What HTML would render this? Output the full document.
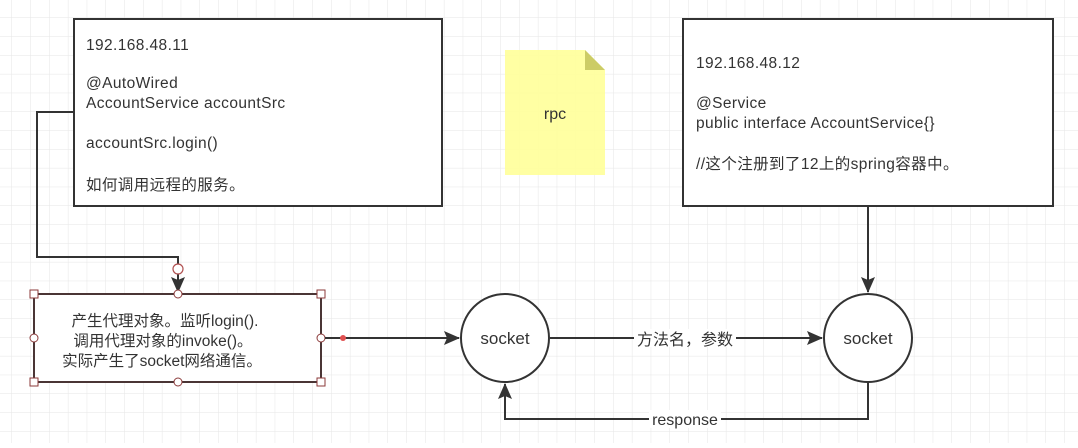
<!DOCTYPE html>
<html><head><meta charset="utf-8"><style>
html,body{margin:0;padding:0;background:#fff;}
svg text{font-family:"Liberation Sans","Noto Sans CJK SC",sans-serif;fill:#333;}
</style></head><body>
<svg width="1078" height="443" viewBox="0 0 1078 443" xmlns="http://www.w3.org/2000/svg">
<defs>
<pattern id="g" x="11.5" y="17.5" width="18.8" height="18.8" patternUnits="userSpaceOnUse">
<path d="M0 0H18.8M0 0V18.8" stroke="#e6e6e6" stroke-width="1" fill="none"/>
</pattern>
<marker id="b" markerWidth="16" markerHeight="14" refX="15" refY="7" orient="auto" markerUnits="userSpaceOnUse">
<path d="M0 0L16 7L0 14L3 7Z" fill="#333"/>
</marker>
</defs>
<rect width="1078" height="443" fill="url(#g)"/>

<!-- box1 -->
<rect x="74" y="19" width="368" height="187" fill="#fff" stroke="#333" stroke-width="2"/>
<g font-size="15.5" letter-spacing="0.4">
<text x="86" y="50">192.168.48.11</text>
<text x="86" y="88">@AutoWired</text>
<text x="86" y="108">AccountService accountSrc</text>
<text x="86" y="148">accountSrc.login()</text>
<text x="86" y="190">如何调用远程的服务。</text>
</g>

<!-- note -->
<path d="M505 50H585L605 70V175H505Z" fill="#ffff99" opacity="0.9"/>
<path d="M585 50L605 70H585Z" fill="#cccc66"/>
<text x="555" y="119" font-size="16" text-anchor="middle">rpc</text>

<!-- box2 -->
<rect x="683" y="19" width="370" height="187" fill="#fff" stroke="#333" stroke-width="2"/>
<g font-size="15.5" letter-spacing="0.4">
<text x="696" y="68">192.168.48.12</text>
<text x="696" y="108">@Service</text>
<text x="696" y="128">public interface AccountService{}</text>
<text x="696" y="169">//这个注册到了12上的spring容器中。</text>
</g>

<!-- connector left -->
<path d="M74 112H37V257H178V292" fill="none" stroke="#333" stroke-width="2" marker-end="url(#b)"/>
<circle cx="178" cy="269" r="5" fill="#fff" stroke="#b05050" stroke-width="1.2"/>

<!-- process box -->
<rect x="34" y="294" width="287" height="88" fill="#fff" stroke="#4a3535" stroke-width="2"/>
<g font-size="15.5" text-anchor="middle">
<text x="165" y="326">产生代理对象。监听login().</text>
<text x="163" y="346">调用代理对象的invoke()。</text>
<text x="162" y="366">实际产生了socket网络通信。</text>
</g>
<g fill="#fff" stroke="#8b3a3a" stroke-width="1">
<rect x="30" y="290" width="8" height="8"/><rect x="317" y="290" width="8" height="8"/>
<rect x="30" y="378" width="8" height="8"/><rect x="317" y="378" width="8" height="8"/>
<circle cx="178" cy="294" r="4"/><circle cx="178" cy="382" r="4"/>
<circle cx="34" cy="338" r="4"/><circle cx="321" cy="338" r="4"/>
</g>

<!-- arrow to socket1 -->
<path d="M325 338H459" fill="none" stroke="#333" stroke-width="2" marker-end="url(#b)"/>
<circle cx="343" cy="338" r="3" fill="#e05050"/>

<!-- sockets -->
<circle cx="505" cy="338" r="44" fill="#fff" stroke="#333" stroke-width="2"/>
<text x="505" y="344" font-size="17" text-anchor="middle">socket</text>
<circle cx="868" cy="338" r="44" fill="#fff" stroke="#333" stroke-width="2"/>
<text x="868" y="344" font-size="17" text-anchor="middle">socket</text>

<!-- 方法名 -->
<path d="M550 338H822" fill="none" stroke="#333" stroke-width="2" marker-end="url(#b)"/>
<rect x="634" y="329" width="102" height="18" fill="#fff"/>
<text x="685" y="345" font-size="16" text-anchor="middle">方法名，参数</text>

<!-- box2 down -->
<path d="M868 206V292" fill="none" stroke="#333" stroke-width="2" marker-end="url(#b)"/>

<!-- response -->
<path d="M868 382V419H505V384" fill="none" stroke="#333" stroke-width="2" marker-end="url(#b)"/>
<rect x="649" y="410" width="72" height="18" fill="#fff"/>
<text x="685" y="425" font-size="16" text-anchor="middle">response</text>
</svg>
</body></html>
